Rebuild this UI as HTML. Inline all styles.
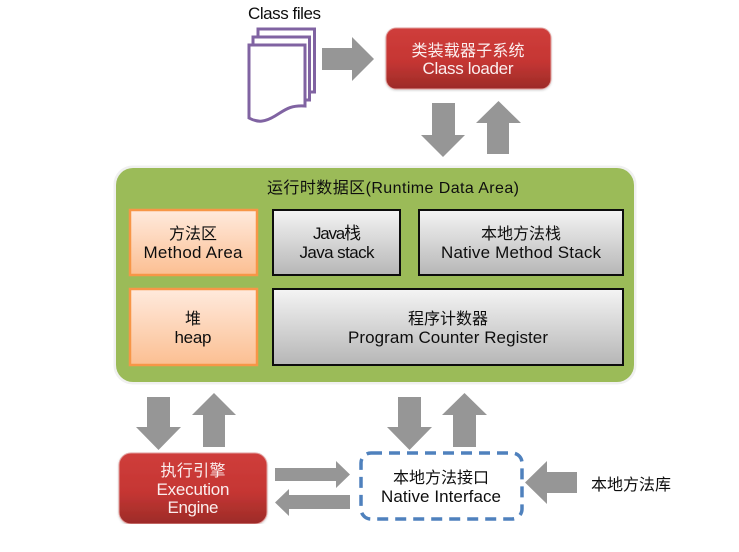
<!DOCTYPE html>
<html><head><meta charset="utf-8"><style>
html,body{margin:0;padding:0;background:#fff;width:739px;height:552px;overflow:hidden}
svg{display:block}
text{font-family:"Liberation Sans","Noto Sans CJK SC",sans-serif;font-size:16px;fill:#111;text-anchor:middle}
.l{font-size:17px}
.w{fill:#fbeeee}
</style></head><body>
<svg width="739" height="552" viewBox="0 0 739 552" xmlns="http://www.w3.org/2000/svg">
<defs>
<linearGradient id="red" x1="0" y1="0" x2="0" y2="1"><stop offset="0" stop-color="#cf3d3b"/><stop offset=".55" stop-color="#c53633"/><stop offset="1" stop-color="#9c2b28"/></linearGradient>
<linearGradient id="or" x1="0" y1="0" x2="0" y2="1"><stop offset="0" stop-color="#ffeadd"/><stop offset="1" stop-color="#fbbf92"/></linearGradient>
<linearGradient id="gr" x1="0" y1="0" x2="0" y2="1"><stop offset="0" stop-color="#f4f4f4"/><stop offset="1" stop-color="#b6b6b6"/></linearGradient>
<filter id="sh" x="-5%" y="-5%" width="110%" height="115%"><feDropShadow dx="0" dy="1" stdDeviation="1" flood-color="#000" flood-opacity=".18"/></filter>
<filter id="soft" x="0" y="0" width="100%" height="100%"><feGaussianBlur stdDeviation="0.35"/></filter>
</defs>
<g filter="url(#soft)">
<text class="l" x="284.500" y="19" textLength="73">Class files</text>
<g fill="#fff" stroke="#8064a2" stroke-width="3">
<path d="M258 29H314.500V92H258Z"/>
<path d="M253 37H309.500V100H253Z"/>
<path d="M249 45H305V106C290 105 285 110 275 116C265 122 258 123 249 118Z"/>
</g>
<g fill="#969696">
<path d="M322 48H352V37L374 59L352 81V70H322Z"/>
<path d="M432 103H455V135H465L443 157L421 135H432Z"/>
<path d="M487 154H509V123H521L498.500 101L476 123H487Z"/>
<path d="M147 397H170V427H181L158.500 450L136 427H147Z"/>
<path d="M203 447H225V415H236L214 393L192 415H203Z"/>
<path d="M398 397H421V427H432L409.500 450L387 427H398Z"/>
<path d="M453 447H476V415H487L464.500 393L442 415H453Z"/>
<path d="M275 468H336V461L350 474.500L336 488V481H275Z"/>
<path d="M350 495H289V489L275 502.500L289 516V509H350Z"/>
<path d="M577 472H547V461L525 482.500L547 504V493H577Z"/>
</g>
<rect x="386" y="28" width="165" height="61" rx="10" fill="url(#red)" stroke="#e2a09e" stroke-width="1" filter="url(#sh)"/>
<text class="w" x="468" y="56" textLength="113">类装载器子系统</text>
<text class="w l" x="468" y="74" textLength="91">Class loader</text>
<rect x="113.500" y="165.500" width="523" height="219" rx="19" fill="#f0f0f0"/>
<rect x="116" y="168" width="518" height="214" rx="17" fill="#9bbb59"/>
<text x="393" y="193" textLength="252">运行时数据区(Runtime Data Area)</text>
<g stroke="#f79646" stroke-width="2.500" fill="url(#or)">
<rect x="130" y="210" width="127" height="65"/>
<rect x="130" y="289" width="127" height="76"/>
</g>
<g stroke="#111" stroke-width="2" fill="url(#gr)">
<rect x="273" y="210" width="127" height="65"/>
<rect x="419" y="210" width="204" height="65"/>
<rect x="273" y="289" width="350" height="76"/>
</g>
<text x="193" y="239" textLength="48">方法区</text>
<text class="l" x="193" y="258" textLength="99">Method Area</text>
<text class="l" x="337" y="239" textLength="48">Java栈</text>
<text class="l" x="337" y="258" textLength="75">Java stack</text>
<text x="521" y="239" textLength="80">本地方法栈</text>
<text class="l" x="521" y="258" textLength="160">Native Method Stack</text>
<text x="193" y="324">堆</text>
<text class="l" x="193" y="343" textLength="37">heap</text>
<text x="448" y="324" textLength="80">程序计数器</text>
<text class="l" x="448" y="343" textLength="200">Program Counter Register</text>
<rect x="119" y="453" width="148" height="71" rx="12" fill="url(#red)" stroke="#e2a09e" stroke-width="1" filter="url(#sh)"/>
<text class="w" x="193" y="476" textLength="65">执行引擎</text>
<text class="w l" x="193" y="495" textLength="73">Execution</text>
<text class="w l" x="193" y="513" textLength="51">Engine</text>
<rect x="361" y="453" width="161" height="66" rx="10" fill="#fff" stroke="#4f81bd" stroke-width="3.500" stroke-dasharray="11 7"/>
<text x="441" y="483" textLength="96">本地方法接口</text>
<text class="l" x="441" y="502" textLength="120">Native Interface</text>
<text x="631" y="490" textLength="80">本地方法库</text>
</g>
</svg>
</body></html>
